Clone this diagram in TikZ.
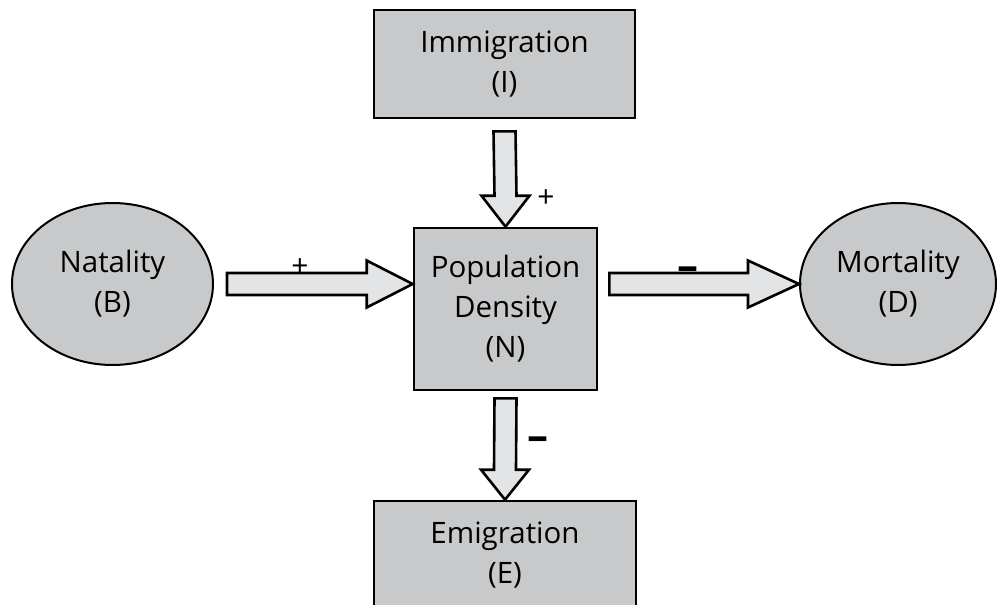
\documentclass[tikz,border=0pt]{standalone}
\usepackage{fontspec}
\setmainfont{Open Sans}
\usetikzlibrary{shapes.geometric,calc}
\definecolor{boxgray}{RGB}{199,201,203}
\definecolor{arrowgray}{RGB}{227,228,229}
\tikzset{
  boxnode/.style={draw=black, line width=2.6pt, fill=boxgray, rectangle, inner sep=0pt,
    align=center, font=\fontsize{29.5}{40}\selectfont},
  ellnode/.style={draw=black, line width=2pt, fill=boxgray, ellipse, inner sep=0pt,
    align=center, font=\fontsize{29.5}{40}\selectfont},
  barrow/.style={draw=black, line width=2.6pt, fill=arrowgray, line join=miter},
  plussign/.style={inner sep=0pt, font=\fontsize{30}{30}\selectfont},
  minussign/.style={inner sep=0pt, font=\fontsize{42}{42}\selectfont\bfseries}
}
\begin{document}
\begin{tikzpicture}[x=1pt,y=-1pt]
\useasboundingbox (0,0) rectangle (997,605);
\fill[white] (0,0) rectangle (997,605);

\node[boxnode, minimum width=261pt, minimum height=108pt] (imm) at (504.5,64) {Immigration\\(I)};
\node[boxnode, minimum width=183pt, minimum height=162pt] (pop) at (505.5,309) {Population\\Density\\(N)};
\node[boxnode, minimum width=262pt, minimum height=108pt] (emi) at (505,555) {Emigration\\(E)};
\node[ellnode, minimum width=201pt, minimum height=162pt] (nat) at (112.5,284) {Natality\\(B)};
\node[ellnode, minimum width=196pt, minimum height=162pt] (mor) at (898,284) {Mortality\\(D)};

\coordinate (lt) at (pop.west |- nat.east);
\coordinate (rt) at (pop.east |- mor.west);

% Natality -> Population
\draw[barrow] ($(nat.east)+(13,-11)$) -- ($(lt)+(-46,-11)$) -- ($(lt)+(-46,-23.5)$)
  -- (lt) -- ($(lt)+(-46,23.5)$) -- ($(lt)+(-46,11)$) -- ($(nat.east)+(13,11)$) -- cycle;
% Population -> Mortality
\draw[barrow] ($(rt)+(11,-11)$) -- ($(mor.west)+(-51,-11)$) -- ($(mor.west)+(-51,-23.5)$)
  -- (mor.west) -- ($(mor.west)+(-51,23.5)$) -- ($(mor.west)+(-51,11)$) -- ($(rt)+(11,11)$) -- cycle;
% Immigration -> Population
\draw[barrow] ($(imm.south)+(-11,12)$) -- ($(pop.north)+(-11,-31)$) -- ($(pop.north)+(-24,-31)$)
  -- (pop.north) -- ($(pop.north)+(24,-31)$) -- ($(pop.north)+(11,-31)$) -- ($(imm.south)+(11,12)$) -- cycle;
% Population -> Emigration
\draw[barrow] ($(pop.south)+(-11,7)$) -- ($(emi.north)+(-11,-30)$) -- ($(emi.north)+(-24,-30)$)
  -- (emi.north) -- ($(emi.north)+(24,-30)$) -- ($(emi.north)+(11,-30)$) -- ($(pop.south)+(11,7)$) -- cycle;

\node[plussign] (p1) at (546,199) {+};
\node[plussign] (p2) at (300,268) {+};
\node[minussign] (m1) at (688,274) {–};
\node[minussign] (m2) at (538,444) {–};
\end{tikzpicture}
\end{document}
